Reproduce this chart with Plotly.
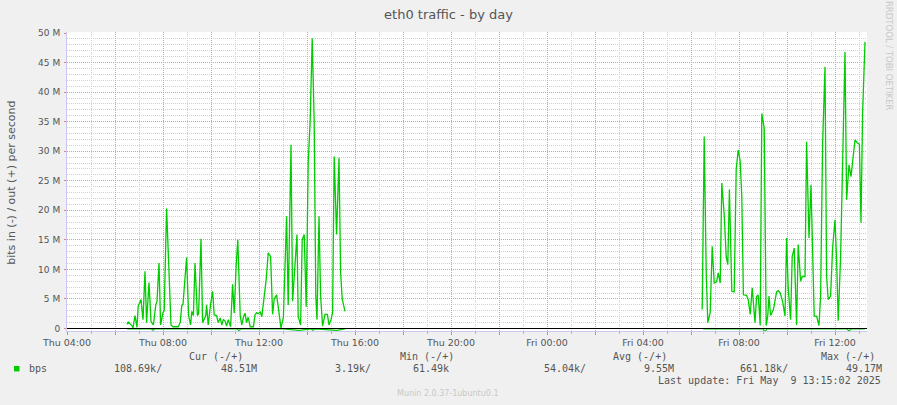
import plotly.graph_objects as go

# ---- data (bits per second, in M) ----
thu_times = ["06:30","06:33","06:42","06:45","06:50","06:55","06:58","07:05","07:10","07:15",
             "07:19","07:25","07:30","07:36","07:42","07:45","07:50","07:54","08:00","08:03",
             "08:09","08:15","08:20","08:25","08:38","08:43","08:47","08:50","08:59","09:04",
             "09:09","09:12","09:16","09:20","09:26","09:29","09:35","09:39","09:47","09:49",
             "09:53","09:59","10:04","10:08","10:14","10:18","10:23","10:27","10:31","10:35",
             "10:39","10:43","10:49","10:54","10:58","11:03","11:07","11:13","11:17","11:21",
             "11:25","11:29","11:33","11:38","11:46","11:50","11:54","11:58","12:03","12:07",
             "12:11","12:18","12:23","12:29","12:34","12:38","12:44","12:48","12:53","12:55",
             "13:01","13:05","13:09","13:13","13:20","13:24","13:30","13:35","13:38","13:44",
             "13:48","13:53","13:58","14:03","14:08","14:13","14:18","14:22","14:25","14:30",
             "14:34","14:39","14:45","14:51","14:55","15:00","15:04","15:08","15:14","15:20",
             "15:24","15:28","15:35"]
thu_out = [0.7,1.1,0.5,0.1,2.2,0.2,3.8,4.9,1.5,9.7,
           1.0,7.8,1.2,0.6,4.0,4.6,11.1,0.6,2.7,3.0,
           20.3,8.6,0.6,0.3,0.3,1.0,3.9,4.1,12.0,2.2,
           0.6,2.9,2.2,11.1,2.2,2.5,15.2,1.0,2.2,4.0,
           0.6,4.1,6.3,2.3,2.2,1.0,1.8,0.6,1.5,1.3,
           0.4,1.5,0.3,7.5,2.6,10.8,15.0,2.2,0.6,1.9,
           2.6,1.0,1.9,0.3,0.3,2.3,2.7,2.5,2.8,2.0,
           4.6,8.3,12.8,12.2,2.4,5.0,5.7,3.8,1.5,0.1,
           1.9,11.1,19.0,4.0,31.1,4.6,11.7,15.9,2.0,0.6,
           15.0,15.9,3.7,28.0,35.3,49.1,34.8,5.5,1.5,19.0,
           5.5,0.4,2.4,2.4,0.6,1.5,2.7,29.1,15.9,28.9,
           9.5,5.0,2.9]

fri_times = ["06:28","06:33","06:38","06:42","06:48","06:53","06:58","07:04","07:08","07:13",
             "07:17","07:23","07:28","07:32","07:36","07:42","07:48","07:53","07:58","08:03",
             "08:07","08:11","08:19","08:23","08:28","08:33","08:40","08:44","08:48","08:53",
             "08:57","09:03","09:08","09:12","09:15","09:19","09:26","09:34","09:38","09:43",
             "09:49","09:55","09:59","10:03","10:09","10:13","10:18","10:22","10:24","10:28",
             "10:34","10:38","10:45","10:49","10:55","11:00","11:04","11:08","11:14","11:20",
             "11:24","11:29","11:35","11:39","11:43","11:49","11:54","12:00","12:04","12:08",
             "12:14","12:19","12:25","12:29","12:35","12:40","12:44","12:50","12:56","13:01",
             "13:05","13:09","13:15"]
fri_out = [3.2,32.5,9.7,1.0,2.7,13.9,7.7,7.9,9.4,7.7,
           24.6,19.3,12.2,10.8,23.5,6.3,6.2,26.9,30.2,28.3,
           22.3,5.7,5.6,4.9,2.4,6.9,1.0,5.4,5.7,0.5,
           36.4,33.9,0.5,2.2,5.5,2.2,3.2,6.2,6.4,6.0,
           4.6,2.1,15.3,6.9,1.5,12.2,13.6,5.5,0.6,14.2,
           8.0,8.8,8.8,31.6,15.3,24.3,12.8,2.1,2.1,0.5,
           5.5,31.1,44.3,8.8,4.9,5.5,13.6,18.4,11.7,1.3,
           12.2,26.6,46.8,21.8,27.7,25.7,28.0,31.9,31.4,31.2,
           17.9,36.4,48.5]

in_times = ["2025-05-08 06:30","2025-05-08 07:30","2025-05-08 07:35","2025-05-08 07:40",
            "2025-05-08 09:00","2025-05-08 10:30","2025-05-08 11:05","2025-05-08 11:10",
            "2025-05-08 11:15","2025-05-08 13:00","2025-05-08 13:40","2025-05-08 14:10",
            "2025-05-08 14:15","2025-05-08 14:20","2025-05-08 15:15","2025-05-08 15:35",
            None,
            "2025-05-09 06:30","2025-05-09 07:30","2025-05-09 08:00","2025-05-09 08:30",
            "2025-05-09 09:00","2025-05-09 09:05","2025-05-09 09:10","2025-05-09 10:00",
            "2025-05-09 10:45","2025-05-09 11:20","2025-05-09 12:00","2025-05-09 12:30",
            "2025-05-09 12:35","2025-05-09 12:40","2025-05-09 13:15"]
in_vals = [-0.05,-0.05,-0.3,-0.05,-0.05,-0.05,-0.05,-0.35,-0.05,-0.05,-0.3,-0.05,
           -0.3,-0.05,-0.3,-0.05,
           None,
           -0.05,-0.05,-0.05,-0.05,-0.05,-0.55,-0.05,-0.05,-0.05,-0.05,-0.05,-0.05,
           -0.45,-0.05,-0.05]

y_tick_vals = [0, 5, 10, 15, 20, 25, 30, 35, 40, 45, 50]
y_tick_text = ["0", "5 M", "10 M", "15 M", "20 M", "25 M", "30 M", "35 M", "40 M", "45 M", "50 M"]

x_tick_vals = ["2025-05-08 04:00","2025-05-08 06:00","2025-05-08 08:00","2025-05-08 10:00",
               "2025-05-08 12:00","2025-05-08 14:00","2025-05-08 16:00","2025-05-08 18:00",
               "2025-05-08 20:00","2025-05-08 22:00","2025-05-09 00:00","2025-05-09 02:00",
               "2025-05-09 04:00","2025-05-09 06:00","2025-05-09 08:00","2025-05-09 10:00",
               "2025-05-09 12:00"]
x_tick_text = ["Thu 04:00","","Thu 08:00","","Thu 12:00","","Thu 16:00","","Thu 20:00","",
               "Fri 00:00","","Fri 04:00","","Fri 08:00","","Fri 12:00"]

legend_name = "bps"
cur_in, cur_out = "108.69k/", "48.51M"
min_in, min_out = "3.19k/", "61.49k"
avg_in, avg_out = "54.04k/", "9.55M"
max_in, max_out = "661.18k/", "49.17M"

# ---- figure ----
x_out = (["2025-05-08 " + t for t in thu_times] + [None] +
         ["2025-05-09 " + t for t in fri_times])
y_out = thu_out + [None] + fri_out

GREEN = "#00CC00"
fig = go.Figure()
fig.add_trace(go.Scatter(x=in_times, y=in_vals, mode="lines",
                         line=dict(color=GREEN, width=1.2), connectgaps=False,
                         hoverinfo="skip", showlegend=False))
fig.add_trace(go.Scatter(x=x_out, y=y_out, mode="lines",
                         line=dict(color=GREEN, width=1.3), connectgaps=False,
                         showlegend=False))

# zero line
fig.add_shape(type="line", xref="paper", yref="y", x0=0, x1=1, y0=0, y1=0,
              line=dict(color="black", width=1.2))

tick_font = dict(family="DejaVu Sans", size=9.5, color="#555555")
MAJOR = "#E09A9A"
MINOR = "#D0D0D0"
DOT = "1px,1px"

fig.update_xaxes(type="date", range=["2025-05-08 04:00", "2025-05-09 13:20"],
                 tickvals=x_tick_vals, ticktext=x_tick_text, tickfont=tick_font,
                 showgrid=True, gridcolor=MAJOR, griddash=DOT, gridwidth=1,
                 ticks="outside", ticklen=3, tickcolor="#E08080",
                 showline=True, linecolor="#C8C8F0", linewidth=1, zeroline=False,
                 automargin=False,
                 minor=dict(dtick=3600000, showgrid=True, gridcolor=MINOR,
                            griddash=DOT, ticks="outside", ticklen=2, tickcolor="#B0B0B0"))
fig.update_yaxes(range=[-0.42, 50.17], tickvals=y_tick_vals, ticktext=y_tick_text,
                 tickfont=dict(family="DejaVu Sans", size=9, color="#555555"),
                 showgrid=True, gridcolor=MAJOR, griddash=DOT,
                 ticks="outside", ticklen=2, tickcolor="#E08080",
                 showline=True, linecolor="#C8C8F0", linewidth=1, zeroline=False,
                 automargin=False, ticklabelstandoff=2,
                 minor=dict(dtick=1, showgrid=True, gridcolor=MINOR, griddash=DOT))

PL, PR, PT, PB = 67, 867, 32, 331.5
def px(x):
    return (x - PL) / (PR - PL)
def py(y):
    return (PB - y) / (PB - PT)

mono = dict(family="DejaVu Sans Mono", size=10, color="#555555")
ann = []
def txt(x, y, s, anchor="left", font=mono, angle=0):
    ann.append(dict(xref="paper", yref="paper", x=px(x), y=py(y), text=s,
                    showarrow=False, xanchor=anchor, yanchor="middle", font=font,
                    textangle=angle))

txt(216, 357, "Cur (-/+)", "center")
txt(427, 357, "Min (-/+)", "center")
txt(640, 357, "Avg (-/+)", "center")
txt(877, 357, "Max (-/+)", "right")
txt(27, 369, legend_name)
txt(164, 369, cur_in, "right")
txt(259, 369, cur_out, "right")
txt(373, 369, min_in, "right")
txt(451, 369, min_out, "right")
txt(588, 369, avg_in, "right")
txt(676, 369, avg_out, "right")
txt(790, 369, max_in, "right")
txt(884, 369, max_out, "right")
txt(883, 381, "Last update: Fri May  9 13:15:02 2025", "right")
txt(448, 394, "Munin 2.0.37-1ubuntu0.1", "center",
    font=dict(family="DejaVu Sans", size=8, color="#C8C8C8"))
txt(889, 56, "RRDTOOL / TOBI OETIKER", "center",
    font=dict(family="DejaVu Sans", size=8.5, color="#C8C8C8"), angle=90)
txt(12, 183, "bits in (-) / out (+) per second", "center",
    font=dict(family="DejaVu Sans", size=11, color="#555555"), angle=-90)

fig.add_shape(type="rect", xref="paper", yref="paper",
              x0=px(14), x1=px(19.5), y0=py(372), y1=py(366.5),
              fillcolor=GREEN, line=dict(width=0))

fig.update_layout(
    width=897, height=405, autosize=False,
    margin=dict(l=PL, r=897 - PR, t=PT, b=405 - PB, autoexpand=False),
    paper_bgcolor="#F0F0F0", plot_bgcolor="white",
    title=dict(text="eth0 traffic - by day", x=0.5, xanchor="center", y=1 - 14 / 405,
               yanchor="middle", font=dict(family="DejaVu Sans", size=13, color="#555555")),
    annotations=ann, showlegend=False,
)

fig.write_html("out.html", config={"displayModeBar": False},
               post_script="document.body.style.margin='0';document.body.style.padding='0';")
